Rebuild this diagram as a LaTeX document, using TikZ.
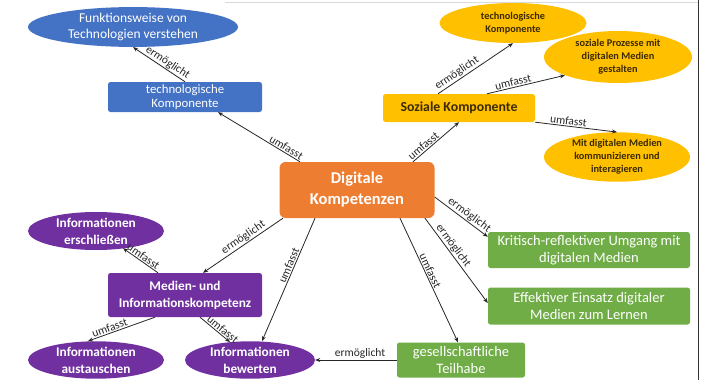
\documentclass[tikz,border=0pt]{standalone}
\usepackage{fontspec}
\setmainfont{Carlito}
\usetikzlibrary{shapes.geometric,arrows.meta}

\definecolor{techblue}{HTML}{4472C4}
\definecolor{coreorange}{HTML}{ED7D31}
\definecolor{socgold}{HTML}{FFC000}
\definecolor{socText}{HTML}{3B2A00}
\definecolor{infopurple}{HTML}{7030A0}
\definecolor{usegreen}{HTML}{70AD47}
\definecolor{linkgray}{HTML}{262626}

\tikzset{
  box/.style={rectangle, rounded corners=2.5pt, align=center, inner sep=1pt},
  oval/.style={ellipse, align=center, inner sep=0pt},
  bluebox/.style={box, fill=techblue, text=white, font=\fontsize{12.8}{14}\selectfont},
  blueoval/.style={oval, fill=techblue, text=white, font=\fontsize{13.5}{16.5}\selectfont},
  corebox/.style={box, rounded corners=6pt, fill=coreorange, text=white, font=\bfseries\fontsize{16.5}{21}\selectfont},
  goldbox/.style={box, fill=socgold, text=socText, font=\bfseries\fontsize{13.8}{15}\selectfont},
  goldoval/.style={oval, fill=socgold, text=socText, font=\bfseries\fontsize{10.3}{13}\selectfont},
  purplebox/.style={box, fill=infopurple, text=white, font=\bfseries\fontsize{13.3}{17}\selectfont},
  purpleoval/.style={oval, fill=infopurple, text=white, font=\bfseries\fontsize{13.3}{17}\selectfont},
  greenbox/.style={box, fill=usegreen, text=white, font=\fontsize{14.5}{17}\selectfont},
  link/.style={draw=linkgray, line width=0.8pt, -{Stealth[length=5pt,width=4pt]}},
  lbl/.style={sloped, above, inner sep=1pt, text=black!85, font=\fontsize{11.5}{12}\selectfont},
}

\begin{document}
\begin{tikzpicture}[x=1pt, y=-1pt]
  \useasboundingbox[fill=white] (0,0) rectangle (707,380);
  % frame lines along the top and right edges
  \draw[black!15, line width=0.6pt] (225,2) -- (698,2);
  \draw[black!80, line width=0.9pt] (698,0) -- (698,380);

  % centre
  \node[corebox, minimum width=155pt, minimum height=56pt] (dk) at (357,190) {Digitale\\Kompetenzen};

  % technological branch
  \node[bluebox, minimum width=154pt, minimum height=30pt] (tk) at (185,97) {technologische\\Komponente};
  \node[blueoval, minimum width=210pt, minimum height=38pt] (fv) at (133,27) {Funktionsweise von\\Technologien verstehen};

  % social branch
  \node[goldbox, minimum width=152pt, minimum height=28pt] (sk) at (459,108) {Soziale Komponente};
  \node[goldoval, minimum width=147pt, minimum height=40pt] (y1) at (513,23) {technologische\\Komponente};
  \node[goldoval, minimum width=148pt, minimum height=52pt] (y2) at (618,57) {soziale Prozesse mit\\digitalen Medien\\gestalten};
  \node[goldoval, minimum width=146pt, minimum height=44pt] (y3) at (617,157) {Mit digitalen Medien\\kommunizieren und\\interagieren};

  % media and information literacy branch
  \node[purplebox, minimum width=154pt, minimum height=44pt] (mi) at (185,295) {Medien- und\\Informationskompetenz};
  \node[purpleoval, minimum width=136pt, minimum height=38pt] (ie) at (96,231) {Informationen\\erschließen};
  \node[purpleoval, minimum width=136pt, minimum height=36pt] (ia) at (96,360) {Informationen\\austauschen};
  \node[purpleoval, minimum width=130pt, minimum height=36pt] (ib) at (250,360) {Informationen\\bewerten};

  % enabled abilities
  \node[greenbox, minimum width=202pt, minimum height=36pt] (g1) at (589,250) {Kritisch-reflektiver Umgang mit\\digitalen Medien};
  \node[greenbox, minimum width=202pt, minimum height=37pt] (g2) at (589,306) {Effektiver Einsatz digitaler\\Medien zum Lernen};
  \node[greenbox, minimum width=128pt, minimum height=35pt] (g3) at (461,360) {gesellschaftliche\\Teilhabe};

  % connectors
  \draw[link] ([xshift=-57pt]dk.north) -- node[lbl, pos=0.2] {umfasst} ([xshift=33pt]tk.south);
  \draw[link] (tk.north) -- node[lbl, pos=0.4] {ermöglicht} (fv.south);

  \draw[link] ([xshift=56pt]dk.north) -- node[lbl, pos=0.3] {umfasst} (sk.south);
  \draw[link] ([xshift=-21pt]sk.north) -- node[lbl, pos=0.3] {ermöglicht} (y1.south);
  \draw[link] ([xshift=28pt]sk.north) -- node[lbl, pos=0.35] {umfasst} (y2.199);
  \draw[link] (sk.south east) -- node[lbl, pos=0.4] {umfasst} (y3.north);

  \draw[link] ([yshift=-7pt]dk.east) -- node[lbl, pos=0.58] {ermöglicht} ([yshift=-5pt]g1.north west);
  \draw[link] ([xshift=68pt]dk.south) -- node[lbl, pos=0.37] {ermöglicht} ([yshift=3pt]g2.west);
  \draw[link] ([xshift=43pt]dk.south) -- node[lbl, pos=0.44] {umfasst} ([xshift=-3pt]g3.north);
  \draw[link] (g3.west) -- node[lbl, pos=0.45] {ermöglicht} (ib.east);

  \draw[link] ([xshift=-74pt]dk.south) -- node[lbl, pos=0.45] {ermöglicht} ([xshift=18pt]mi.north);
  \draw[link] ([xshift=-42pt]dk.south) -- node[lbl, pos=0.4] {umfasst} ([xshift=12pt]ib.north);
  \draw[link] ([xshift=-27pt]mi.north) -- node[lbl, pos=0.5] {umfasst} ([xshift=27pt,yshift=2pt]ie.south);
  \draw[link] ([xshift=-30pt]mi.south) -- node[lbl, pos=0.65] {umfasst} ([xshift=-8pt]ia.north);
  \draw[link] ([xshift=15pt]mi.south) -- node[lbl, pos=0.65] {umfasst} ([xshift=-20pt,yshift=-1pt]ib.north);
\end{tikzpicture}
\end{document}
